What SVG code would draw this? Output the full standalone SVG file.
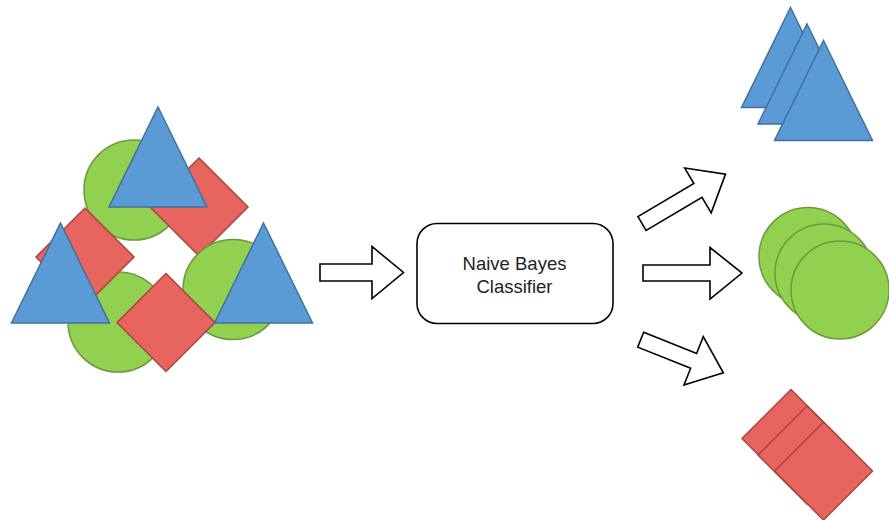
<svg xmlns="http://www.w3.org/2000/svg" width="889" height="520" viewBox="0 0 889 520">
  <style>
    .tri { fill: #5b9bd5; stroke: #41719c; stroke-width: 1.5; stroke-linejoin: miter; }
    .dia { fill: #e8655f; stroke: #a8453f; stroke-width: 1.5; }
    .dot { fill: #92d050; stroke: #6b9a3b; stroke-width: 1.5; }
    .arrow { fill: #ffffff; stroke: #000000; stroke-width: 1.6; stroke-linejoin: miter; }
    .box { fill: #ffffff; stroke: #000000; stroke-width: 1.6; }
    .label { font-family: "Liberation Sans", Arial, sans-serif; font-size: 18.5px; fill: #222222; text-anchor: middle; }
  </style>
  <defs>
    <polygon id="triangle" points="0,-50 49,50 -49,50"/>
    <polygon id="diamond" points="0,-49 49,0 0,49 -49,0"/>
  </defs>

  <!-- mixed input set -->
  <g id="input-set">
    <circle class="dot" cx="134" cy="190" r="50"/>
    <use href="#diamond" class="dia" x="199" y="207"/>
    <use href="#triangle" class="tri" x="158" y="157"/>
    <circle class="dot" cx="118" cy="322" r="50"/>
    <use href="#diamond" class="dia" x="85" y="257"/>
    <use href="#triangle" class="tri" x="60.5" y="273"/>
    <circle class="dot" cx="233" cy="289.5" r="50"/>
    <use href="#diamond" class="dia" x="166" y="322.5"/>
    <use href="#triangle" class="tri" x="263.5" y="273"/>
  </g>

  <!-- classifier -->
  <g id="classifier">
    <rect class="box" x="417" y="223.5" width="196" height="100" rx="20" ry="20"/>
    <text class="label" x="514.5" y="269.5">Naive Bayes</text>
    <text class="label" x="514.5" y="292.5">Classifier</text>
  </g>

  <!-- sorted outputs -->
  <g id="triangles-out">
    <use href="#triangle" class="tri" x="790.5" y="57.5"/>
    <use href="#triangle" class="tri" x="807" y="74"/>
    <use href="#triangle" class="tri" x="823.5" y="90.5"/>
  </g>
  <g id="circles-out">
    <circle class="dot" cx="808" cy="256.5" r="49"/>
    <circle class="dot" cx="824" cy="273" r="49"/>
    <circle class="dot" cx="840" cy="290" r="49"/>
  </g>
  <g id="squares-out">
    <use href="#diamond" class="dia" x="791" y="438.5"/>
    <use href="#diamond" class="dia" x="807" y="455"/>
    <use href="#diamond" class="dia" x="823.5" y="471"/>
  </g>

  <!-- block arrows -->
  <g id="connectors">
    <polygon class="arrow" points="320,264 372,264 372,246.5 403.5,272.5 372,298.5 372,281 320,281"/>
    <g transform="translate(642,223.5) rotate(-30.6)">
      <polygon class="arrow" points="0,-8 65,-8 65,-26 97,0 65,26 65,8 0,8"/>
    </g>
    <polygon class="arrow" points="643,265 710,265 710,247.5 742,273 710,299 710,281 643,281"/>
    <g transform="translate(640.7,339.7) rotate(21.8)">
      <polygon class="arrow" points="0,-8 57,-8 57,-26 89,0 57,26 57,8 0,8"/>
    </g>
  </g>
</svg>
